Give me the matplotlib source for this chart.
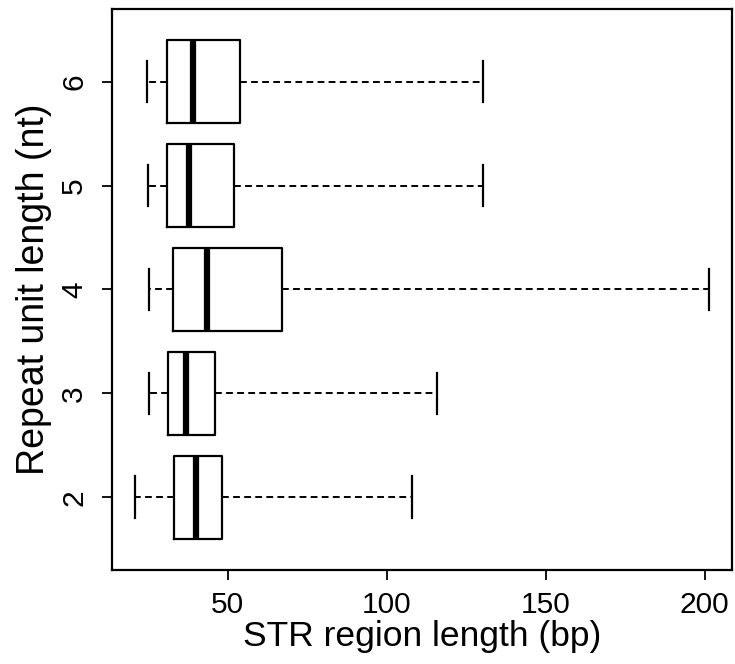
import matplotlib
matplotlib.use("Agg")
import matplotlib.pyplot as plt

# repeat unit length groups and their box statistics (bp)
units = ["2", "3", "4", "5", "6"]
whislo = [20.8, 25.3, 25.2, 24.9, 24.6]
q1 = [33.3, 31.2, 32.8, 31.1, 31.1]
med = [40.1, 37.0, 43.4, 38.0, 39.0]
q3 = [48.1, 46.1, 67.2, 52.0, 53.8]
whishi = [108.0, 116.0, 201.3, 130.3, 130.4]

plt.rcParams["font.family"] = ["Liberation Sans", "DejaVu Sans"]

stats_list = [
    {"label": u, "whislo": lo, "q1": a, "med": m, "q3": b, "whishi": hi, "fliers": []}
    for u, lo, a, m, b, hi in zip(units, whislo, q1, med, q3, whishi)
]

fig = plt.figure(figsize=(7.35, 6.64), dpi=100)
ax = fig.add_axes([0.152, 0.1416, 0.8435, 0.845])

pos = list(range(1, len(units) + 1))
ax.bxp(
    stats_list, positions=pos, vert=False, widths=0.8, showfliers=False,
    boxprops=dict(color="black", lw=1.6),
    medianprops=dict(color="black", lw=4.5, solid_capstyle="butt"),
    whiskerprops=dict(color="black", lw=1.4, linestyle=(0, (3.5, 2.2))),
    capprops=dict(color="black", lw=1.6),
    capwidths=0.4,
)

lo_all, hi_all = min(whislo), max(whishi)
r = hi_all - lo_all
ax.set_xlim(lo_all - 0.04 * r, hi_all + 0.04 * r)
ax.set_ylim(0.3, len(units) + 0.7)

ax.set_xticks([50, 100, 150, 200])
ax.set_yticks(pos)
ax.set_yticklabels(units, rotation=90, va="center")
ax.tick_params(axis="both", length=7, width=1.3, labelsize=21.5, pad=8)
ax.tick_params(axis="y", pad=10)
for s in ax.spines.values():
    s.set_linewidth(1.6)

ax.set_xlabel("STR region length (bp)", fontsize=25.5, labelpad=1)
ax.set_ylabel("Repeat unit length (nt)", fontsize=27, labelpad=6)

fig.savefig("out.png", dpi=100)
